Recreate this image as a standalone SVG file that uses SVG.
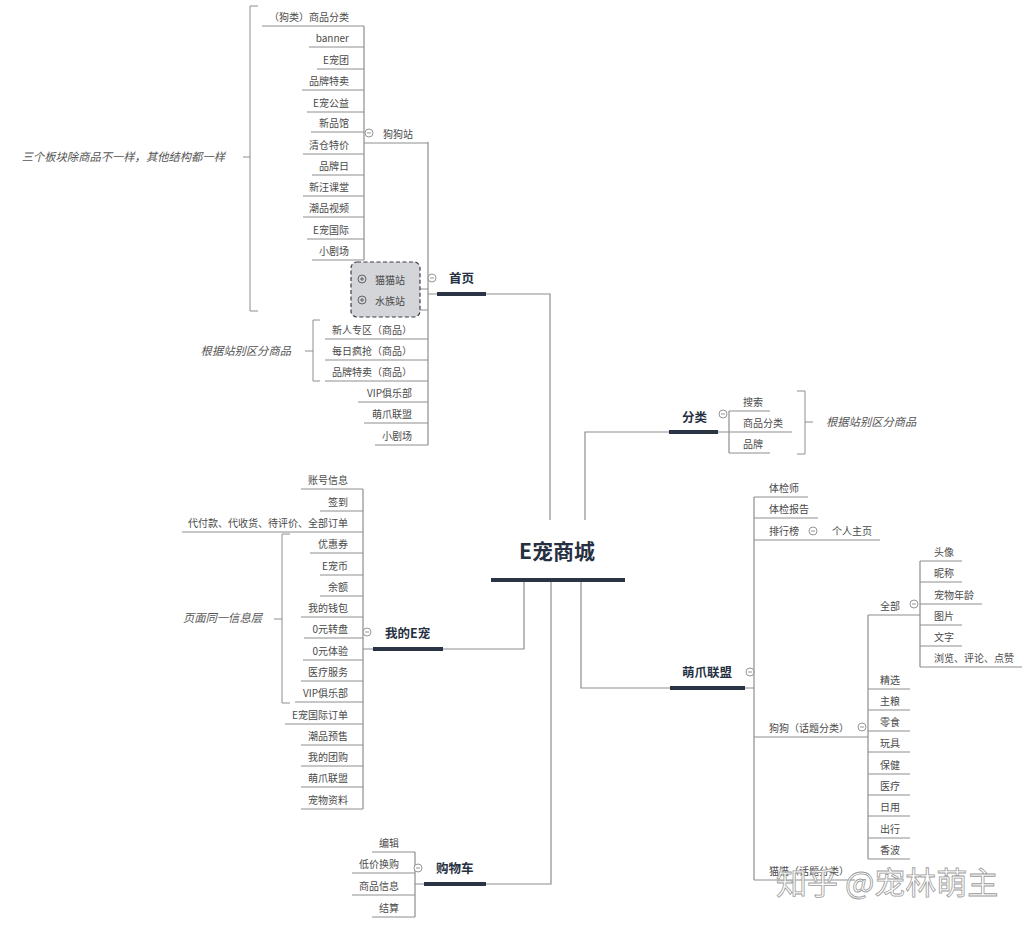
<svg xmlns="http://www.w3.org/2000/svg" xmlns:xlink="http://www.w3.org/1999/xlink" width="1028" height="926" viewBox="0 0 1028 926">
<style>
.t{font-family:"Noto Sans CJK SC","Liberation Sans",sans-serif;font-size:10px;fill:#4a4a4a}
.e{text-anchor:end}
.b{font-family:"Noto Sans CJK SC","Liberation Sans",sans-serif;font-size:12.5px;font-weight:bold;fill:#263042}
.c{font-family:"Noto Sans CJK SC","Liberation Sans",sans-serif;font-size:21px;font-weight:bold;fill:#263042}
.i{font-family:"Noto Sans CJK SC","Liberation Sans",sans-serif;font-size:11.3px;font-style:italic;fill:#555}
.l{stroke:#8e8e8e;stroke-width:1;fill:none}
.k{stroke:#8e8e8e;stroke-width:1.2;fill:none}
.bar{stroke:#2a3445;stroke-width:4;fill:none}
.o{stroke:#8a8a8a;stroke-width:0.9;fill:#fff}
.wm{font-family:"Noto Sans CJK SC","Liberation Sans",sans-serif;font-size:31px;fill:#fff;fill-opacity:0.85;stroke:#9a9a9a;stroke-width:0.8}
</style>
<defs>
<g id="mi"><circle class="o" r="4"/><path d="M-2,0H2" stroke="#8a8a8a" stroke-width="0.9"/></g>
<g id="pl"><circle r="4" fill="none" stroke="#555" stroke-width="0.9"/><path d="M-2,0H2M0,-2V2" stroke="#555" stroke-width="0.9"/></g>
</defs>
<rect width="1028" height="926" fill="#fff"/>

<g id="connectors">
<path class="k" d="M486,294H550V520"/>
<path class="k" d="M585,520V432H669"/>
<path class="k" d="M718,432H792"/>
<path class="k" d="M524,580V649H443"/>
<path class="k" d="M551,580V884H486"/>
<path class="k" d="M581,580V688H670"/>
<path class="k" d="M428,142V445"/>
<path class="l" d="M428,294H437"/>
<path class="l" d="M364,143H428M366,289H428M366,310H428M325,339H428M325,360H428M325,381H428M358,402H428M364,423H428M375,445H428"/>
<path class="k" d="M364,26V260"/>
<path class="l" d="M262,26H364M309,47H364M317,69H364M302,90H364M307,112H364M311,132H364M303,154H364M312,175H364M303,196H364M303,217H364M307,239H364M312,260H364"/>
<path class="k" d="M729,411V453"/>
<path class="l" d="M729,411H770M729,453H770"/>
<path class="k" d="M363,489V809"/>
<path class="l" d="M363,649H373"/>
<path class="l" d="M301,489H363M320,511H363M182,532H363M310,553H363M320,575H363M320,596H363M301,617H363M304,638H363M303,660H363M301,681H363M295,702H363M285,724H363M301,745H363M301,766H363M301,787H363M301,809H363"/>
<path class="k" d="M415,852V917"/>
<path class="l" d="M415,884H424"/>
<path class="l" d="M372,852H415M352,873H415M352,895H415M372,917H415"/>
<path class="k" d="M754,497V880"/>
<path class="l" d="M745,688H754"/>
<path class="l" d="M754,497H808M754,518H818M754,540H880M754,737H868M754,880H855"/>
<path class="k" d="M868,615V859"/>
<path class="l" d="M868,615H920M868,689H910M868,710H910M868,731H910M868,752H910M868,774H910M868,795H910M868,816H910M868,838H910M868,859H910"/>
<path class="k" d="M920,561V667"/>
<path class="l" d="M920,561H962M920,582H962M920,604H982M920,625H962M920,646H962M920,667H1022"/>
<path class="l" d="M258,6H250V311H258M243,157H250"/>
<path class="l" d="M320,320H313V381H320M305,351H313"/>
<path class="l" d="M797,391H805V454H797M805,422H813"/>
<path class="l" d="M290,534H282V703H290M274,619H282"/>
</g>

<g id="center">
<text class="c" x="519" y="558.5">E宠商城</text>
<path class="bar" d="M491,580H625"/>
</g>

<g id="home">
<text class="b" x="449" y="282.5">首页</text>
<use xlink:href="#mi" x="432" y="278"/>
<path class="bar" d="M437,294H486"/>
</g>
<g id="home-children">
<g id="dog-station"><text class="t" x="383" y="137.5">狗狗站</text><use xlink:href="#mi" x="369" y="133"/></g>
<g id="station-box">
<rect x="351" y="262" width="69" height="55" rx="6" fill="#d3d5d9" stroke="#3a3f48" stroke-width="1.2" stroke-dasharray="4,2.5"/>
<text class="t" x="375" y="284">猫猫站</text><use xlink:href="#pl" x="362" y="279"/>
<text class="t" x="375" y="305">水族站</text><use xlink:href="#pl" x="362" y="300"/>
</g>
<g id="home-list">
<text class="t e" x="412" y="333.5">新人专区（商品）</text>
<text class="t e" x="412" y="354.5">每日疯抢（商品）</text>
<text class="t e" x="412" y="375.5">品牌特卖（商品）</text>
<text class="t e" x="412" y="396.5">VIP俱乐部</text>
<text class="t e" x="412" y="417.5">萌爪联盟</text>
<text class="t e" x="412" y="439.5">小剧场</text>
</g>
<g id="dog-list">
<text class="t e" x="349" y="20.5">（狗类）商品分类</text>
<text class="t e" x="349" y="41.5">banner</text>
<text class="t e" x="349" y="63.5">E宠团</text>
<text class="t e" x="349" y="84.5">品牌特卖</text>
<text class="t e" x="349" y="106.5">E宠公益</text>
<text class="t e" x="349" y="126.5">新品馆</text>
<text class="t e" x="349" y="148.5">清仓特价</text>
<text class="t e" x="349" y="169.5">品牌日</text>
<text class="t e" x="349" y="190.5">新汪课堂</text>
<text class="t e" x="349" y="211.5">潮品视频</text>
<text class="t e" x="349" y="233.5">E宠国际</text>
<text class="t e" x="349" y="254.5">小剧场</text>
</g>
<g id="note-three"><text class="i e" x="225" y="161">三个板块除商品不一样，其他结构都一样</text></g>
<g id="note-station1"><text class="i e" x="291" y="355">根据站别区分商品</text></g>
</g>

<g id="category">
<text class="b" x="682" y="421.5">分类</text>
<use xlink:href="#mi" x="723" y="414"/>
<path class="bar" d="M669,432H718"/>
<text class="t" x="743" y="405.5">搜索</text>
<text class="t" x="743" y="426.5">商品分类</text>
<text class="t" x="743" y="447.5">品牌</text>
<text class="i" x="826" y="426">根据站别区分商品</text>
</g>

<g id="my">
<text class="b" x="385" y="637.5">我的E宠</text>
<use xlink:href="#mi" x="367" y="632"/>
<path class="bar" d="M373,649H443"/>
<text class="t e" x="348" y="483.5">账号信息</text>
<text class="t e" x="348" y="505.5">签到</text>
<text class="t e" x="348" y="526.5">代付款、代收货、待评价、全部订单</text>
<text class="t e" x="348" y="547.5">优惠券</text>
<text class="t e" x="348" y="569.5">E宠币</text>
<text class="t e" x="348" y="590.5">余额</text>
<text class="t e" x="348" y="611.5">我的钱包</text>
<text class="t e" x="348" y="632.5">0元转盘</text>
<text class="t e" x="348" y="654.5">0元体验</text>
<text class="t e" x="348" y="675.5">医疗服务</text>
<text class="t e" x="348" y="696.5">VIP俱乐部</text>
<text class="t e" x="348" y="718.5">E宠国际订单</text>
<text class="t e" x="348" y="739.5">潮品预售</text>
<text class="t e" x="348" y="760.5">我的团购</text>
<text class="t e" x="348" y="781.5">萌爪联盟</text>
<text class="t e" x="348" y="803.5">宠物资料</text>
<text class="i e" x="262" y="622">页面同一信息层</text>
</g>

<g id="cart">
<text class="b" x="436" y="872.5">购物车</text>
<use xlink:href="#mi" x="418" y="868"/>
<path class="bar" d="M424,884H486"/>
<text class="t e" x="399" y="846.5">编辑</text>
<text class="t e" x="399" y="867.5">低价换购</text>
<text class="t e" x="399" y="889.5">商品信息</text>
<text class="t e" x="399" y="911.5">结算</text>
</g>

<g id="alliance">
<text class="b" x="682" y="676.5">萌爪联盟</text>
<use xlink:href="#mi" x="750" y="672"/>
<path class="bar" d="M670,688H745"/>
<text class="t" x="769" y="491.5">体检师</text>
<text class="t" x="769" y="512.5">体检报告</text>
<text class="t" x="769" y="534.5">排行榜</text>
<use xlink:href="#mi" x="813" y="531"/>
<text class="t" x="832" y="534.5">个人主页</text>
<text class="t" x="769" y="731.5">狗狗（话题分类）</text>
<use xlink:href="#mi" x="862" y="727"/>
<text class="t" x="769" y="874.5">猫猫（话题分类）</text>
<text class="t" x="880" y="609.5">全部</text>
<use xlink:href="#mi" x="914" y="604"/>
<text class="t" x="880" y="683.5">精选</text>
<text class="t" x="880" y="704.5">主粮</text>
<text class="t" x="880" y="725.5">零食</text>
<text class="t" x="880" y="746.5">玩具</text>
<text class="t" x="880" y="768.5">保健</text>
<text class="t" x="880" y="789.5">医疗</text>
<text class="t" x="880" y="810.5">日用</text>
<text class="t" x="880" y="832.5">出行</text>
<text class="t" x="880" y="853.5">香波</text>
<text class="t" x="934" y="555.5">头像</text>
<text class="t" x="934" y="576.5">昵称</text>
<text class="t" x="934" y="598.5">宠物年龄</text>
<text class="t" x="934" y="619.5">图片</text>
<text class="t" x="934" y="640.5">文字</text>
<text class="t" x="934" y="661.5">浏览、评论、点赞</text>
</g>

<g id="watermark"><text class="wm" x="776" y="894">知乎 @宠林萌主</text></g>
</svg>
